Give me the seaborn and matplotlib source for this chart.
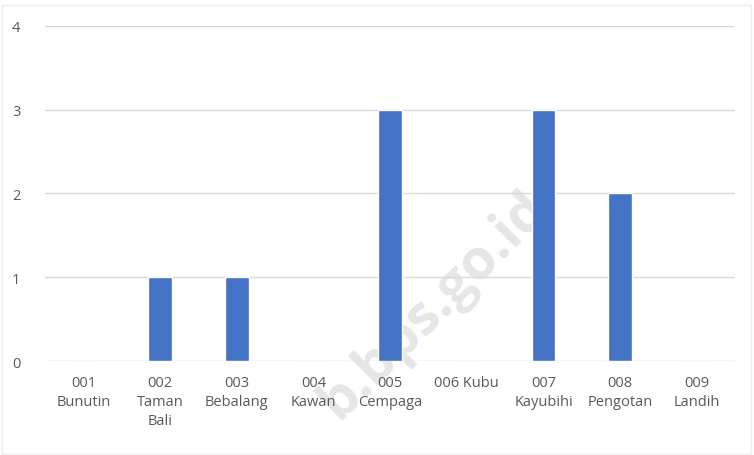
import matplotlib.pyplot as plt
import seaborn as sns
import pandas as pd

categories = ["001\nBunutin", "002\nTaman\nBali", "003\nBebalang", "004\nKawan",
              "005\nCempaga", "006 Kubu", "007\nKayubihi", "008\nPengotan", "009\nLandih"]
values = [0, 1, 1, 0, 3, 0, 3, 2, 0]
y_ticks = [0, 1, 2, 3, 4]

df = pd.DataFrame({"desa": categories, "jumlah": values})

sns.set_style("white")
plt.rcParams["font.family"] = ["Open Sans", "DejaVu Sans"]

fig = plt.figure(figsize=(7.54, 4.56), dpi=100)
ax = fig.add_axes([0.06, 0.206, 0.915, 0.735])
ax.patch.set_alpha(0)

sns.barplot(data=df, x="desa", y="jumlah", color="#4472C4", width=0.31,
            saturation=1, ax=ax, zorder=3)

ax.set_ylim(0, 4)
ax.set_yticks(y_ticks)
ax.yaxis.grid(True, color="#d9d9d9", linewidth=1, zorder=0)
ax.set_xlabel("")
ax.set_ylabel("")
for s in ax.spines.values():
    s.set_visible(False)
ax.tick_params(axis="both", length=0, labelsize=10.5, labelcolor="#595959")
ax.tick_params(axis="y", pad=18)
ax.tick_params(axis="x", pad=10)
for lbl in ax.get_xticklabels():
    lbl.set_linespacing(1.35)

# faint watermark behind the chart
fig.text(0.575, 0.33, "b.bps.go.id", rotation=45, fontsize=40, fontweight="bold",
         color="#e6e6e6", ha="center", va="center", zorder=-1)

fig.patches.append(plt.Rectangle((0.002, 0.002), 0.994, 0.985, transform=fig.transFigure,
                                 fill=False, edgecolor="#ededed", linewidth=1))

fig.savefig("out.png", dpi=100)
